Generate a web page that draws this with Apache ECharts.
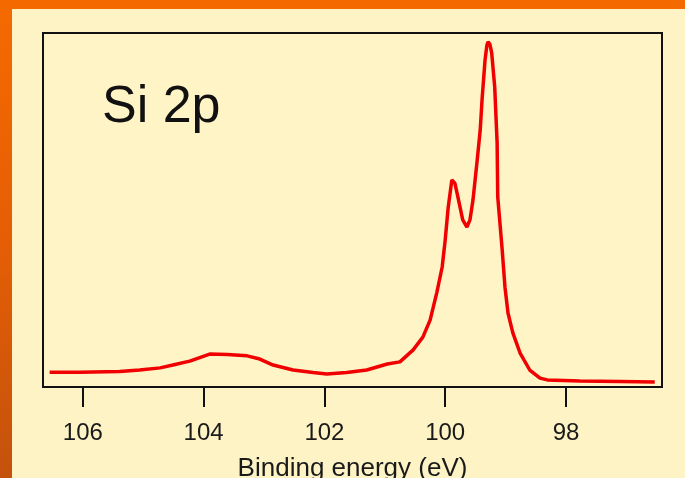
<!DOCTYPE html>
<html>
<head>
<meta charset="utf-8">
<script src="https://cdn.jsdelivr.net/npm/echarts@6/dist/echarts.min.js"></script>
<style>
html,body{margin:0;padding:0;width:685px;height:478px;overflow:hidden;background:#fdf3c4;}
#frame{position:absolute;left:0;top:0;width:685px;height:478px;
background:
 linear-gradient(to bottom,#f56a00 0,#f56a00 9px,rgba(0,0,0,0) 9px),
 linear-gradient(to bottom,#f56a00 0%,#e55e05 50%,#c4520c 100%) 0 0/12px 478px no-repeat,
 #fdf3c4;}
#chart{position:absolute;left:0;top:0;width:685px;height:478px;}
</style>
</head>
<body>
<div id="frame"></div>
<div id="chart"></div>
<script>
// Binding energy (eV) and intensity (arbitrary units)
const energy = [106.55,106.05,105.39,105.06,104.72,104.51,104.23,103.90,103.61,103.28,103.07,102.85,102.52,102.19,101.96,101.63,101.30,100.96,100.75,100.53,100.37,100.25,100.14,100.05,100.00,99.95,99.89,99.84,99.79,99.71,99.64,99.59,99.54,99.47,99.42,99.39,99.34,99.31,99.29,99.26,99.23,99.18,99.14,99.13,99.06,99.01,98.96,98.88,98.76,98.60,98.43,98.31,97.77,97.11,96.53];
const intensity = [4.2,4.2,4.4,4.8,5.4,6.2,7.3,9.3,9.2,8.8,7.9,6.2,4.8,4.1,3.7,4.1,4.8,6.5,7.1,10.5,14.1,18.9,26.6,33.9,41.5,50.8,58.5,57.6,53.7,47.2,45.2,47.2,52.8,64.1,72.6,81.1,92.4,96.5,97.5,96.8,94.4,84.7,68.9,53.7,39.5,28.2,20.9,15.3,9.6,4.8,2.5,2.0,1.7,1.55,1.4];
const tickValues = [106,104,102,100,98];
const axisTitle = 'Binding energy (eV)';
const label = 'Si 2p';

const chart = echarts.init(document.getElementById('chart'), null, {renderer:'canvas'});
chart.setOption({
  animation:false,
  backgroundColor:'transparent',
  title:{text:label,left:97,top:77,textStyle:{fontFamily:'Liberation Sans',fontSize:52,fontWeight:'normal',color:'#111'}},
  grid:{left:43,right:23,top:33,bottom:91,outerBoundsMode:'none',containLabel:false,show:true,backgroundColor:'#fff4c6',borderColor:'#111',borderWidth:2},
  xAxis:{
    type:'value',inverse:true,min:96.41,max:106.66,
    name:axisTitle,nameLocation:'middle',nameGap:69,
    nameTextStyle:{fontFamily:'Liberation Sans',fontSize:26,color:'#1a1a1a'},
    axisLine:{show:true,lineStyle:{color:'#111',width:2}},
    axisTick:{show:true,inside:false,length:20,customValues:tickValues,lineStyle:{color:'#111',width:2}},
    axisLabel:{customValues:tickValues,margin:34,fontFamily:'Liberation Sans',fontSize:24,color:'#1a1a1a'},
    splitLine:{show:false}
  },
  yAxis:{type:'value',min:0,max:100,show:false,splitLine:{show:false}},
  series:[{
    type:'line',showSymbol:false,smooth:false,
    data:energy.map((e,i)=>[e,intensity[i]]),
    lineStyle:{color:'#f00000',width:3.5}
  }]
});
</script>
</body>
</html>
